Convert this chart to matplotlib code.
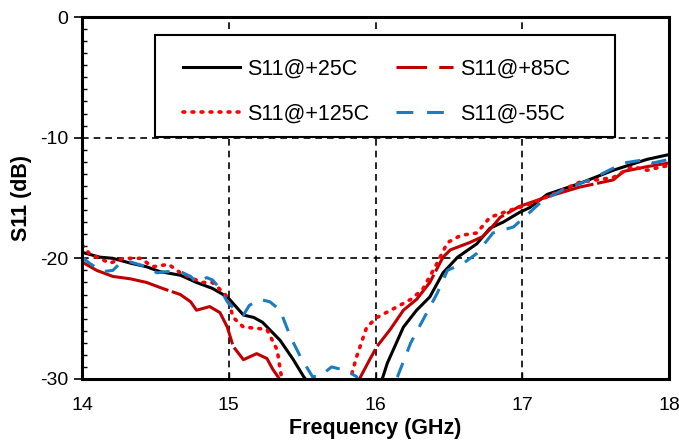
import matplotlib.pyplot as plt
import numpy as np
from matplotlib.ticker import MultipleLocator
from matplotlib.patches import Rectangle

plt.rcParams['font.family'] = ['Liberation Sans', 'DejaVu Sans']
plt.rcParams['axes.unicode_minus'] = False

# S11 vs frequency
f_25 = [14.00, 14.12, 14.21, 14.33, 14.44, 14.53, 14.67, 14.78, 14.89, 14.99, 15.10, 15.17,
        15.23, 15.35, 15.44, 15.51, 15.56, 16.03, 16.08, 16.19, 16.28, 16.37, 16.46, 16.56,
        16.69, 16.78, 16.87, 16.98, 17.05, 17.17, 17.39, 17.62, 17.85, 18.00]
s_25 = [-19.5, -19.9, -20.0, -20.4, -20.7, -21.1, -21.4, -22.0, -22.5, -23.2, -24.7, -24.9,
        -25.3, -26.8, -28.4, -29.8, -30.6, -30.6, -28.7, -25.7, -24.3, -23.2, -21.2, -19.9,
        -18.8, -17.5, -17.0, -16.2, -15.8, -14.7, -13.8, -12.7, -11.8, -11.4]

f_85 = [14.00, 14.10, 14.21, 14.33, 14.44, 14.55, 14.67, 14.74, 14.78, 14.87, 14.94, 14.99,
        15.03, 15.10, 15.19, 15.26, 15.30, 15.34, 15.36, 15.87, 15.89, 15.96, 16.01, 16.10,
        16.19, 16.28, 16.37, 16.46, 16.51, 16.64, 16.73, 16.78, 16.85, 16.98, 17.17, 17.39,
        17.62, 17.69, 17.85, 18.00]
s_85 = [-20.3, -21.0, -21.5, -21.7, -22.0, -22.5, -23.0, -23.6, -24.3, -24.0, -24.5, -25.7,
        -27.3, -28.4, -27.9, -28.3, -29.2, -29.9, -30.5, -30.5, -30.0, -28.4, -27.3, -25.9,
        -24.3, -23.4, -22.0, -19.9, -19.3, -18.7, -18.2, -17.6, -16.6, -15.7, -14.9, -14.1,
        -13.5, -12.8, -12.4, -12.1]

f_125 = [14.00, 14.05, 14.19, 14.28, 14.40, 14.48, 14.59, 14.67, 14.74, 14.82, 14.89, 14.96,
         14.99, 15.03, 15.10, 15.19, 15.26, 15.33, 15.35, 15.37, 15.82, 15.84, 15.87, 15.94,
         16.01, 16.15, 16.24, 16.32, 16.42, 16.49, 16.58, 16.69, 16.78, 16.92, 17.03, 17.17,
         17.39, 17.62, 17.75, 17.85, 17.92, 18.00]
s_125 = [-18.9, -19.6, -20.4, -20.0, -20.0, -20.7, -20.5, -21.2, -21.6, -22.0, -22.0, -22.8,
         -23.2, -24.9, -25.7, -25.8, -25.9, -27.6, -29.2, -30.5, -30.5, -29.5, -28.2, -25.7,
         -24.9, -24.0, -23.4, -22.6, -20.4, -18.7, -18.1, -17.9, -16.6, -16.0, -15.6, -14.9,
         -13.7, -13.3, -12.4, -12.7, -12.5, -12.3]

f_m55 = [14.00, 14.05, 14.14, 14.21, 14.26, 14.33, 14.44, 14.51, 14.58, 14.67, 14.74, 14.78,
         14.85, 14.89, 14.94, 14.99, 15.03, 15.10, 15.14, 15.21, 15.28, 15.35, 15.42, 15.49,
         15.57, 15.62, 15.70, 15.80, 15.87, 15.90, 16.12, 16.15, 16.24, 16.35, 16.42, 16.49,
         16.60, 16.69, 16.80, 16.94, 17.05, 17.14, 17.28, 17.46, 17.69, 17.85, 17.89, 18.00]
s_m55 = [-19.9, -20.4, -21.1, -21.0, -20.4, -20.3, -20.7, -21.2, -21.1, -21.1, -21.5, -22.0,
         -21.6, -21.8, -22.5, -23.6, -24.1, -24.7, -23.9, -23.4, -23.6, -24.3, -26.5, -28.2,
         -29.8, -29.8, -29.0, -29.3, -29.8, -30.4, -30.4, -29.8, -27.0, -24.5, -22.9, -21.0,
         -20.4, -19.6, -17.9, -17.4, -16.2, -15.2, -14.3, -13.5, -12.1, -11.8, -12.1, -11.8]

labels = ['S11@+25C', 'S11@+85C', 'S11@+125C', 'S11@-55C']

fig, ax = plt.subplots(figsize=(6.79, 4.43), dpi=100)
fig.subplots_adjust(left=0.1208, right=0.9853, bottom=0.1445, top=0.9616)

l25, = ax.plot(f_25, s_25, color='black', lw=2.2)
l85, = ax.plot(f_85, s_85, color='#C00000', lw=2.2, ls=(0, (30, 1.2)))
l125, = ax.plot(f_125, s_125, color='#FF0000', lw=2.6, ls=(0, (0.5, 2.0)),
                dash_capstyle='round')
lm55, = ax.plot(f_m55, s_m55, color='#1B7CC2', lw=2.2, ls=(0, (5, 4)))

ax.set_xlim(14, 18)
ax.set_ylim(-30, 0)
ax.xaxis.set_major_locator(MultipleLocator(1))
ax.yaxis.set_major_locator(MultipleLocator(10))
ax.yaxis.set_minor_locator(MultipleLocator(1))
ax.grid(True, which='major', color='black', ls=(0, (4, 3)), lw=1.2)

for s in ax.spines.values():
    s.set_linewidth(2.2)
ax.tick_params(axis='x', direction='in', length=5, width=1, pad=13, labelsize=14)
ax.tick_params(axis='y', which='major', direction='out', length=6, width=1.2, pad=4, labelsize=14)
ax.tick_params(axis='y', which='minor', direction='in', length=3.5, width=1)

ax.set_xlabel('Frequency (GHz)', fontsize=15.5, fontweight='bold', labelpad=3)
ax.set_ylabel('S11 (dB)', fontsize=15.5, fontweight='bold', labelpad=6)

# legend box (white, black frame), drawn separately so its size matches the reference
box = Rectangle((0.1244, 0.6685), 0.7836, 0.2815, transform=ax.transAxes,
                facecolor='white', edgecolor='black', lw=1.5, zorder=3)
ax.add_patch(box)

# rows: +25/+85, +125/-55
h85 = plt.Line2D([], [], color='#C00000', lw=2.2, ls=(0, (10, 4)))
hm55 = plt.Line2D([], [], color='#1B7CC2', lw=2.2, ls=(0, (5.5, 4.5)))
leg = ax.legend(handles=[l25, l125, h85, hm55],
                labels=[labels[0], labels[2], labels[1], labels[3]], ncol=2,
                loc='upper left', bbox_to_anchor=(0.172, 0.884),
                fontsize=15.5, frameon=False,
                handlelength=2.65, handletextpad=0.33, columnspacing=1.25,
                borderpad=0, borderaxespad=0, labelspacing=1.1)
leg.set_zorder(4)

fig.savefig('out.png', dpi=100)
